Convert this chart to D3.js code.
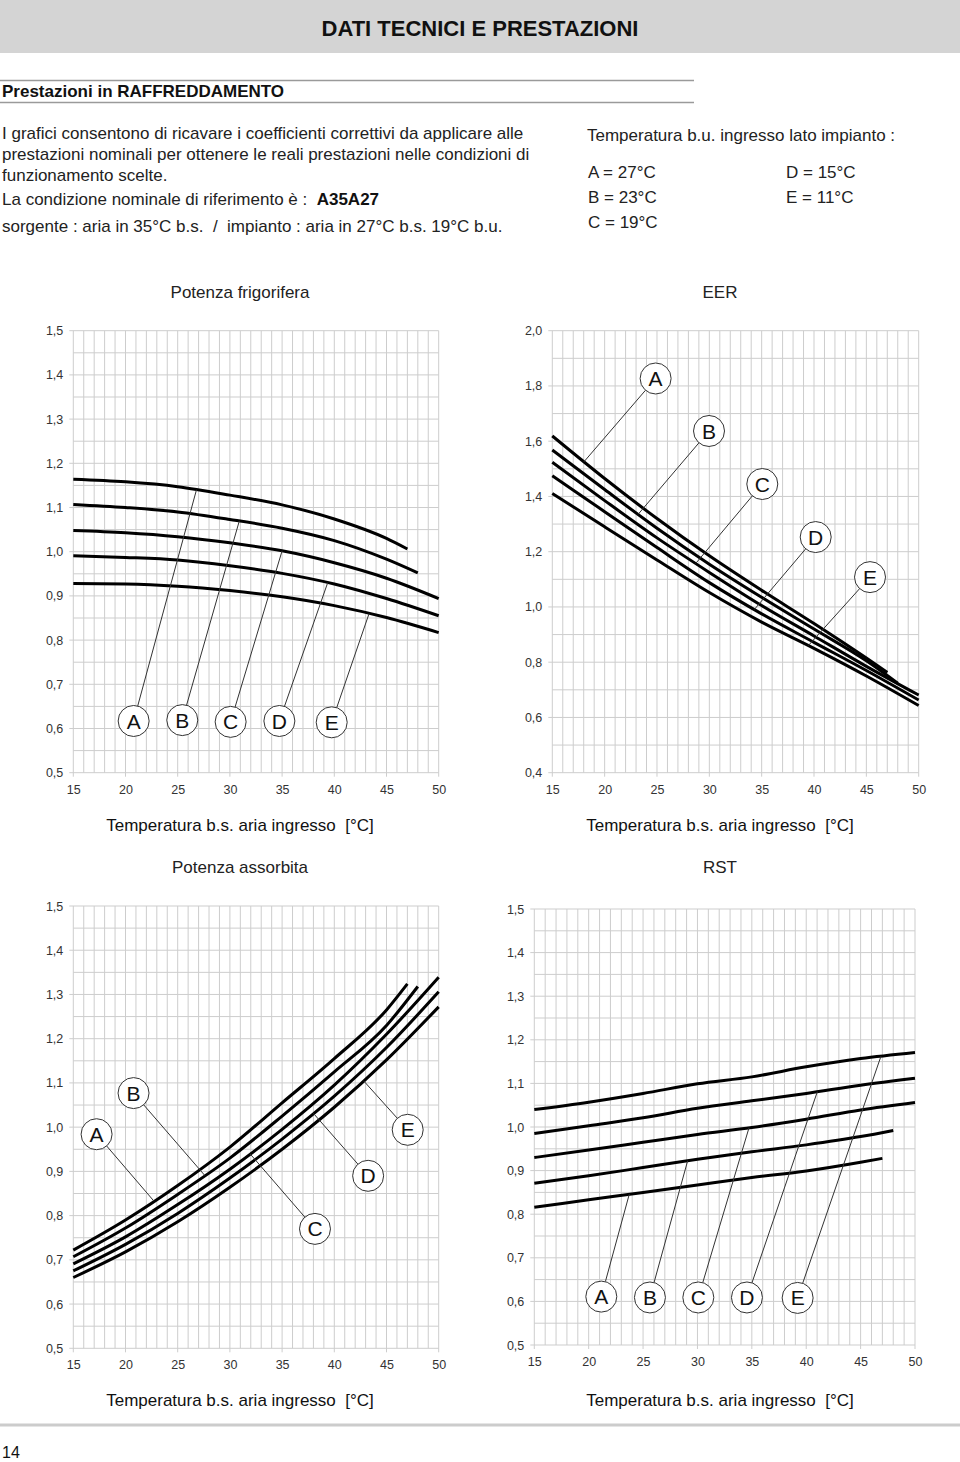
<!DOCTYPE html>
<html><head><meta charset="utf-8">
<script src="https://cdn.jsdelivr.net/npm/d3@7/dist/d3.min.js"></script>
<style>
body{margin:0;background:#fff;}
svg{display:block;font-family:"Liberation Sans",Arial,sans-serif;}
text{white-space:pre;}
</style></head>
<body>
<svg id="page" width="960" height="1462"></svg>
<script>
// ---------- DATA ----------
const seriesNames = ["A","B","C","D","E"];
const tempsA = [15,20,25,30,35,40,45,47];
const tempsB = [15,20,25,30,35,40,45,48];
const tempsFull = [15,20,25,30,35,40,45,50];
const xTicks = [15,20,25,30,35,40,45,50];

// Potenza frigorifera
const pfA = [1.164,1.158,1.147,1.128,1.106,1.074,1.030,1.006];
const pfB = [1.107,1.100,1.090,1.073,1.053,1.025,0.983,0.952];
const pfC = [1.048,1.043,1.034,1.020,1.002,0.975,0.940,0.894];
const pfD = [0.991,0.987,0.981,0.968,0.951,0.927,0.894,0.855];
const pfE = [0.928,0.927,0.922,0.912,0.898,0.878,0.851,0.817];
const pfLabelT = [20.78,25.44,30.07,34.74,39.75];
const pfLabelV = [0.617,0.619,0.615,0.617,0.614];
const pfLeaderT = [26.8,30.9,35.0,39.37,43.33];
const pfYTicks = [0.5,0.6,0.7,0.8,0.9,1.0,1.1,1.2,1.3,1.4,1.5];

// EER
const eerA = [1.619,1.465,1.320,1.185,1.060,0.940,0.815,0.763];
const eerB = [1.568,1.425,1.285,1.155,1.035,0.920,0.805,0.724];
const eerC = [1.524,1.385,1.250,1.125,1.005,0.895,0.785,0.681];
const eerD = [1.475,1.345,1.215,1.088,0.975,0.872,0.770,0.663];
const eerE = [1.411,1.290,1.170,1.052,0.945,0.850,0.750,0.643];
const eerLabelT = [24.87,29.97,35.06,40.16,45.35];
const eerLabelV = [1.827,1.637,1.445,1.253,1.108];
const eerLeaderT = [18.03,23.2,28.7,34.3,39.46];
const eerYTicks = [0.4,0.6,0.8,1.0,1.2,1.4,1.6,1.8,2.0];

// Potenza assorbita
const paA = [0.722,0.790,0.868,0.955,1.055,1.155,1.265,1.324];
const paB = [0.707,0.772,0.848,0.930,1.025,1.125,1.230,1.318];
const paC = [0.691,0.752,0.825,0.905,0.995,1.095,1.210,1.339];
const paD = [0.675,0.735,0.805,0.885,0.973,1.070,1.180,1.306];
const paE = [0.660,0.718,0.786,0.864,0.950,1.045,1.152,1.272];
const paLabelT = [17.23,20.77,38.15,43.24,47.03];
const paLabelV = [0.984,1.077,0.770,0.890,0.994];
const paLeaderT = [22.73,27.6,31.93,38.0,42.8];
const paYTicks = [0.5,0.6,0.7,0.8,0.9,1.0,1.1,1.2,1.3,1.4,1.5];

// RST
const rstA = [0.816,0.833,0.850,0.867,0.884,0.899,0.919,0.928];
const rstB = [0.871,0.888,0.907,0.926,0.943,0.959,0.978,0.992];
const rstC = [0.930,0.947,0.965,0.983,0.999,1.018,1.039,1.056];
const rstD = [0.985,1.003,1.021,1.043,1.060,1.077,1.096,1.112];
const rstE = [1.040,1.057,1.077,1.099,1.115,1.138,1.157,1.171];
const rstLabelT = [21.16,25.63,30.08,34.55,39.21];
const rstLabelV = [0.611,0.609,0.609,0.609,0.608];
const rstLeaderT = [23.73,29.1,34.74,41.02,46.87];
const rstYTicks = paYTicks;

// ---------- PAGE ----------
const svg = d3.select("#page");
const fontMain = "'Liberation Sans', Arial, sans-serif";
const FS = 17;

svg.append("rect").attr("x",0).attr("y",0).attr("width",960).attr("height",53).attr("fill","#d4d4d4");
svg.append("text").attr("x",480).attr("y",36).attr("text-anchor","middle")
  .attr("font-size",22).attr("font-weight","bold").attr("fill","#111").text("DATI TECNICI E PRESTAZIONI");

svg.append("line").attr("x1",0).attr("x2",694).attr("y1",80.5).attr("y2",80.5).attr("stroke","#9a9a9a").attr("stroke-width",1.5);
svg.append("line").attr("x1",0).attr("x2",694).attr("y1",102.5).attr("y2",102.5).attr("stroke","#9a9a9a").attr("stroke-width",1.5);
svg.append("text").attr("x",2).attr("y",97).attr("font-size",FS).attr("font-weight","bold").attr("fill","#111")
  .text("Prestazioni in RAFFREDDAMENTO");

const para = [
  ["I grafici consentono di ricavare i coefficienti correttivi da applicare alle",139],
  ["prestazioni nominali per ottenere le reali prestazioni nelle condizioni di",160],
  ["funzionamento scelte.",181]
];
para.forEach(p=>{
  svg.append("text").attr("x",2).attr("y",p[1]).attr("font-size",FS).attr("fill","#222").text(p[0]);
});
const t1 = svg.append("text").attr("x",2).attr("y",205).attr("font-size",FS).attr("fill","#222");
t1.append("tspan").text("La condizione nominale di riferimento è :  ");
t1.append("tspan").attr("font-weight","bold").attr("fill","#111").text("A35A27");
svg.append("text").attr("x",2).attr("y",232).attr("font-size",FS).attr("fill","#222")
  .text("sorgente : aria in 35°C b.s.  /  impianto : aria in 27°C b.s. 19°C b.u.");

svg.append("text").attr("x",587).attr("y",141).attr("font-size",FS).attr("fill","#222")
  .text("Temperatura b.u. ingresso lato impianto :");
const legendRows = [["A = 27°C",588,178],["B = 23°C",588,203],["C = 19°C",588,228],["D = 15°C",786,178],["E = 11°C",786,203]];
legendRows.forEach(r=>{
  svg.append("text").attr("x",r[1]).attr("y",r[2]).attr("font-size",FS).attr("fill","#222").text(r[0]);
});

// footer
svg.append("line").attr("x1",0).attr("x2",960).attr("y1",1425).attr("y2",1425).attr("stroke","#cccccc").attr("stroke-width",3);
svg.append("text").attr("x",2).attr("y",1458).attr("font-size",16).attr("fill","#111").text("14");

// ---------- CHARTS ----------
function drawChart(cfg){
  const g = svg.append("g");
  const x = d3.scaleLinear().domain([15,50]).range([cfg.left,cfg.right]);
  const y = d3.scaleLinear().domain(cfg.yDomain).range([cfg.bottom,cfg.top]);

  const vx = d3.range(15,51,1);
  g.selectAll(".vg").data(vx).join("line")
    .attr("x1",d=>x(d)).attr("x2",d=>x(d))
    .attr("y1",cfg.top).attr("y2",d=> xTicks.includes(d)? cfg.bottom+4 : cfg.bottom)
    .attr("stroke","#cdcdcd").attr("stroke-width",1);
  const nH = Math.round((cfg.yDomain[1]-cfg.yDomain[0])/cfg.yMinor);
  const hy = d3.range(0,nH+1).map(i=>cfg.yDomain[0]+i*cfg.yMinor);
  g.selectAll(".hg").data(hy).join("line")
    .attr("x1",(d,i)=> i%2===0 ? cfg.left-4 : cfg.left).attr("x2",cfg.right)
    .attr("y1",d=>y(d)).attr("y2",d=>y(d))
    .attr("stroke","#cdcdcd").attr("stroke-width",1);

  const fmt = d=> d3.format(".1f")(d).replace(".",",");
  const ya = g.append("g").attr("transform",`translate(${cfg.left-4},0)`)
    .call(d3.axisLeft(y).tickValues(cfg.yTicks).tickFormat(fmt).tickSize(0).tickPadding(6));
  ya.select(".domain").remove();
  ya.selectAll("text").attr("font-size",12.5).attr("fill","#333").attr("font-family",fontMain);
  const xa = g.append("g").attr("transform",`translate(0,${cfg.bottom+4})`)
    .call(d3.axisBottom(x).tickValues(xTicks).tickFormat(d3.format("d")).tickSize(0).tickPadding(8));
  xa.select(".domain").remove();
  xa.selectAll("text").attr("font-size",12.5).attr("fill","#333").attr("font-family",fontMain);

  g.append("text").attr("x",cfg.titleX).attr("y",cfg.titleY).attr("text-anchor","middle")
    .attr("font-size",FS).attr("fill","#222").text(cfg.title);
  g.append("text").attr("x",cfg.axisTitleX).attr("y",cfg.axisTitleY).attr("text-anchor","middle")
    .attr("font-size",FS).attr("fill","#111").text("Temperatura b.s. aria ingresso  [°C]");

  const line = d3.line().x(d=>x(d[0])).y(d=>y(d[1])).curve(d3.curveMonotoneX);
  const interps = [];
  cfg.series.forEach(s=>{
    const pts = s.t.map((t,i)=>[t,s.v[i]]);
    g.append("path").attr("d",line(pts)).attr("fill","none").attr("stroke","#000").attr("stroke-width",3)
      .attr("stroke-linecap","butt");
    interps.push(d3.scaleLinear().domain(s.t).range(s.v));
  });

  const r = 15.5;
  seriesNames.forEach((name,i)=>{
    const cx = x(cfg.labelT[i]), cy = y(cfg.labelV[i]);
    const lt = cfg.leaderT[i];
    const px = x(lt), py = y(interps[i](lt));
    const dx = px-cx, dy = py-cy, len = Math.hypot(dx,dy);
    g.append("line").attr("x1",cx+dx/len*r).attr("y1",cy+dy/len*r).attr("x2",px).attr("y2",py)
      .attr("stroke","#333").attr("stroke-width",1);
    g.append("circle").attr("cx",cx).attr("cy",cy).attr("r",r).attr("fill","#fff").attr("stroke","#333").attr("stroke-width",1);
    g.append("text").attr("x",cx).attr("y",cy).attr("dy","0.36em").attr("text-anchor","middle")
      .attr("font-size",21).attr("fill","#111").text(name);
  });
}

drawChart({
  left:73.3,right:438.7,top:330.7,bottom:772.7,yDomain:[0.5,1.5],yMinor:0.05,yTicks:pfYTicks,
  title:"Potenza frigorifera",titleX:240,titleY:298,axisTitleX:240,axisTitleY:831,
  series:[{t:tempsA,v:pfA},{t:tempsB,v:pfB},{t:tempsFull,v:pfC},{t:tempsFull,v:pfD},{t:tempsFull,v:pfE}],
  labelT:pfLabelT,labelV:pfLabelV,leaderT:pfLeaderT
});
drawChart({
  left:552.3,right:918.7,top:330.7,bottom:772.7,yDomain:[0.4,2.0],yMinor:0.1,yTicks:eerYTicks,
  title:"EER",titleX:720,titleY:298,axisTitleX:720,axisTitleY:831,
  series:[{t:tempsA,v:eerA},{t:tempsB,v:eerB},{t:tempsFull,v:eerC},{t:tempsFull,v:eerD},{t:tempsFull,v:eerE}],
  labelT:eerLabelT,labelV:eerLabelV,leaderT:eerLeaderT
});
drawChart({
  left:73.3,right:438.7,top:906,bottom:1348.3,yDomain:[0.5,1.5],yMinor:0.05,yTicks:paYTicks,
  title:"Potenza assorbita",titleX:240,titleY:873,axisTitleX:240,axisTitleY:1406,
  series:[{t:tempsA,v:paA},{t:tempsB,v:paB},{t:tempsFull,v:paC},{t:tempsFull,v:paD},{t:tempsFull,v:paE}],
  labelT:paLabelT,labelV:paLabelV,leaderT:paLeaderT
});
drawChart({
  left:534.3,right:915,top:909,bottom:1345,yDomain:[0.5,1.5],yMinor:0.05,yTicks:rstYTicks,
  title:"RST",titleX:720,titleY:873,axisTitleX:720,axisTitleY:1406,
  series:[{t:tempsA,v:rstA},{t:tempsB,v:rstB},{t:tempsFull,v:rstC},{t:tempsFull,v:rstD},{t:tempsFull,v:rstE}],
  labelT:rstLabelT,labelV:rstLabelV,leaderT:rstLeaderT
});
</script>
</body></html>
